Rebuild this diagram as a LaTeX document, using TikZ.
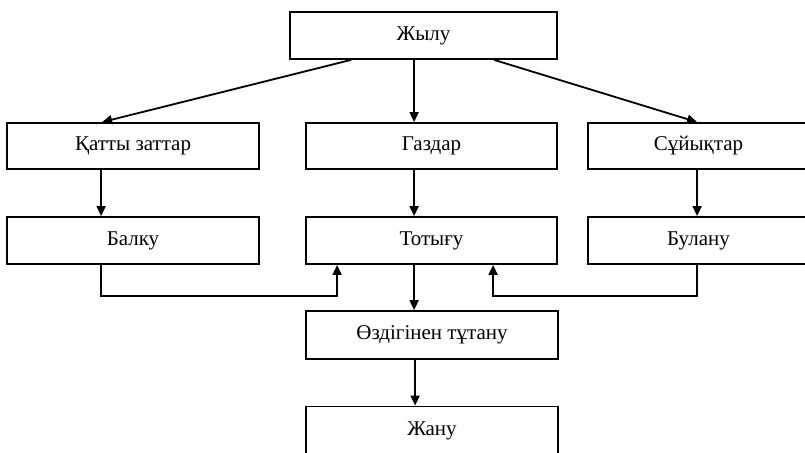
\documentclass[tikz,border=0pt]{standalone}
\usepackage{fontspec}
\setmainfont{Liberation Serif}
\usetikzlibrary{arrows.meta}
\begin{document}
\begin{tikzpicture}[x=1pt,y=-1pt,
  box/.style={draw,line width=1.8pt,rectangle,inner sep=0pt,
    font=\fontsize{21}{24}\selectfont},
  link/.style={line width=1.8pt},
  arr/.style={link,-{Triangle[length=10pt,width=9pt]}}]
\useasboundingbox (0,0) rectangle (805,452);
% top level
\node[box,minimum width=267pt,minimum height=47pt] (zhylu) at (423.5,35.5) {Жылу};
% states of matter
\node[box,minimum width=252pt,minimum height=46pt] (qatty) at (133,146) {Қатты заттар};
\node[box,minimum width=251pt,minimum height=46pt] (gazdar) at (431.5,146) {Газдар};
\node[box,minimum width=221pt,minimum height=46pt] (suyyq) at (698.5,146) {Сұйықтар};
% processes
\node[box,minimum width=252pt,minimum height=47pt] (balqu) at (133,240.5) {Балку};
\node[box,minimum width=251pt,minimum height=47pt] (totygu) at (431.5,240.5) {Тотығу};
\node[box,minimum width=221pt,minimum height=47pt] (bulanu) at (698.5,240.5) {Булану};
% ignition and burning
\node[box,minimum width=252pt,minimum height=48pt] (ozdig) at (432,335) {Өздігінен тұтану};
\node[box,minimum width=252pt,minimum height=48pt] (zhanu) at (432,430.5) {Жану};
% arrows from heat
\draw[arr] ([xshift=62pt]zhylu.south west) -- ([xshift=96pt]qatty.north west);
\draw[arr] ([xshift=125pt]zhylu.south west) -- ([xshift=109pt]gazdar.north west);
\draw[arr] ([xshift=205pt]zhylu.south west) -- ([xshift=110pt]suyyq.north west);
% downward arrows
\draw[arr] ([xshift=95pt]qatty.south west) -- ([xshift=95pt]balqu.north west);
\draw[arr] ([xshift=109pt]gazdar.south west) -- ([xshift=109pt]totygu.north west);
\draw[arr] ([xshift=110pt]suyyq.south west) -- ([xshift=110pt]bulanu.north west);
% feedback into oxidation
\draw[arr] ([xshift=95pt]balqu.south west) -- ++(0,31) -| ([xshift=32pt]totygu.south west);
\draw[arr] ([xshift=110pt]bulanu.south west) -- ++(0,31) -| ([xshift=188pt]totygu.south west);
% oxidation to ignition to burning
\draw[arr] ([xshift=109pt]totygu.south west) -- ([xshift=109pt]ozdig.north west);
\draw[arr] ([xshift=110pt]ozdig.south west) -- ([xshift=110pt]zhanu.north west);
\end{tikzpicture}
\end{document}
